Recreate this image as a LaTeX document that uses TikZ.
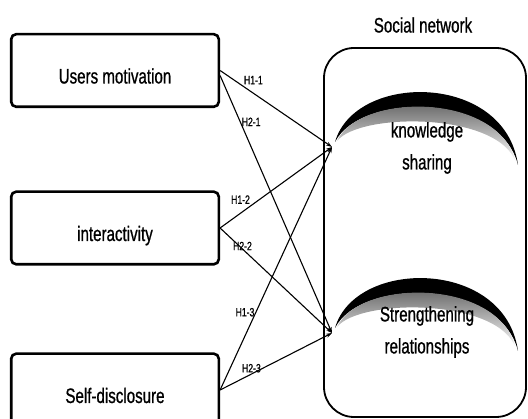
\documentclass[tikz,border=0pt]{standalone}
\usepackage{fontspec}
\setmainfont{Liberation Sans}[FakeStretch=0.72,FakeBold=0.8]
\usetikzlibrary{arrows.meta}
\begin{document}
\begin{tikzpicture}[x=1pt,y=-1pt,
                        factor/.style={shape=rectangle,draw,line width=2.6pt,rounded corners=5pt,minimum width=207.6pt,minimum height=72.6pt,text height=28pt,text depth=2pt,font=\fontsize{21}{32}\selectfont},
                        outcome/.style={align=center,font=\fontsize{21}{32}\selectfont},
                        hyp/.style={line width=1.1pt,-{Stealth[length=6pt,width=4pt]}},
                        hlabel/.style={font=\fontsize{12}{13}\selectfont,inner sep=1pt},
                        crescent/.style={fill=black},
                        fadeband/.style={top color=black!70,bottom color=white}
                        ]
                        \useasboundingbox (0,0) rectangle (528,419);
                        %Einflussfaktoren
                        \node [factor] (motiv) at (115,70.5) {Users motivation};
                        \node [factor] (inter) at (115,228) {interactivity};
                        \node [factor] (selfd) at (115,390) {Self-disclosure};
                        %Social network
                        \node [font=\fontsize{21}{32}\selectfont] (title) at (423,25) {Social network};
                        \draw [line width=1.8pt,rounded corners=30pt] (324,48) rectangle (526,417);
                        \fill [crescent] (335,142) .. controls (355,72) and (505,72) .. (518,165) .. controls (500,92) and (360,92) .. cycle;
                        \shade [fadeband] (337,141) .. controls (360,92) and (500,92) .. (516,163) .. controls (500,112) and (360,112) .. cycle;
                        \begin{scope}[shift={(0,186)}]
                        \fill [crescent] (335,142) .. controls (355,72) and (505,72) .. (518,165) .. controls (500,92) and (360,92) .. cycle;
                        \shade [fadeband] (337,141) .. controls (360,92) and (500,92) .. (516,163) .. controls (500,112) and (360,112) .. cycle;
                        \end{scope}
                        \node [outcome] (knowtxt) at (427,148) {knowledge\\sharing};
                        \node [outcome] (strtxt) at (427,332) {Strengthening\\relationships};
                        \coordinate (know) at (332,147);
                        \coordinate (streng) at (332,333);
                        %Hypothesen
                        \draw [hyp] (motiv.east) -- node [hlabel,pos=0.2,anchor=south west] (h11) {H1-1} (know);
                        \draw [hyp] ([yshift=-5pt]motiv.east) -- node [hlabel,pos=0.18,anchor=west] (h21) {H2-1} (streng);
                        \draw [hyp] (inter.east) -- node [hlabel,pos=0.28,anchor=south east] (h12) {H1-2} (know);
                        \draw [hyp] (inter.east) -- node [hlabel,pos=0.2,yshift=3pt] (h22) {H2-2} (streng);
                        \draw [hyp] (selfd.east) -- node [hlabel,pos=0.32,anchor=east] (h13) {H1-3} (know);
                        \draw [hyp] (selfd.east) -- node [hlabel,pos=0.28,anchor=south] (h23) {H2-3} (streng);
                \end{tikzpicture}
\end{document}
